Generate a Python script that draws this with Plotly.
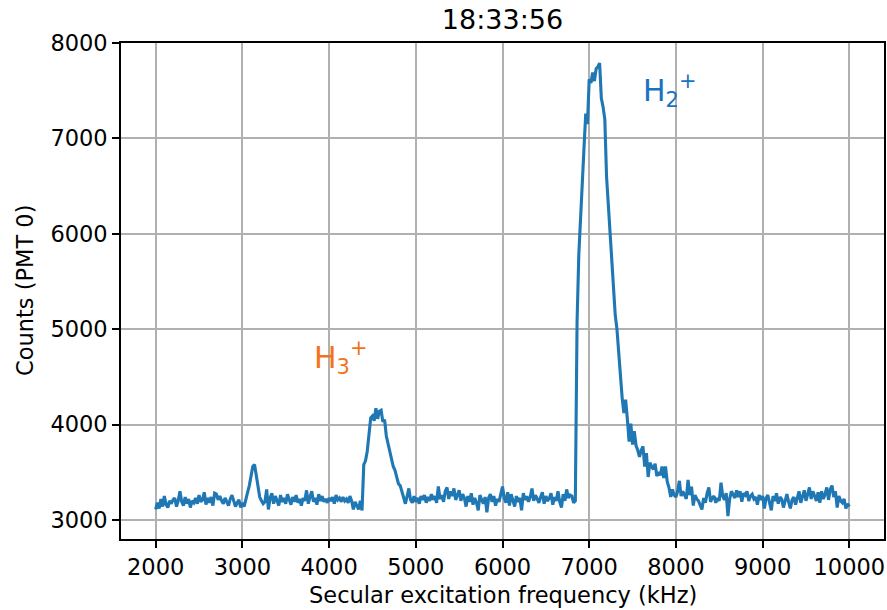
import numpy as np
import plotly.graph_objects as go

# scan grid: 2000 .. 10000 kHz in 20 kHz steps
freq_khz = np.arange(2000, 10001, 20)

counts_pmt0 = [
    # 2000 - 2980
    3110, 3180, 3120, 3220, 3140, 3250, 3160, 3130, 3200, 3170,
    3210, 3230, 3140, 3200, 3300, 3190, 3150, 3240, 3170, 3220,
    3130, 3200, 3180, 3230, 3170, 3260, 3190, 3210, 3290, 3160,
    3230, 3180, 3240, 3150, 3280, 3270, 3210, 3250, 3200, 3170,
    3230, 3190, 3150, 3220, 3260, 3200, 3140, 3180, 3210, 3130,
    # 3000 - 3980
    3180, 3140, 3230, 3290, 3360, 3480, 3560, 3580, 3470, 3350,
    3240, 3200, 3170, 3190, 3320, 3110, 3230, 3280, 3170, 3250,
    3200, 3150, 3260, 3190, 3230, 3170, 3270, 3210, 3160, 3240,
    3190, 3260, 3180, 3220, 3150, 3230, 3200, 3310, 3170, 3240,
    3300, 3190, 3230, 3160, 3270, 3200, 3250, 3190, 3220, 3180,
    # 4000 - 4980
    3230, 3200, 3240, 3170, 3260, 3210, 3230, 3190, 3240, 3200,
    3220, 3180, 3250, 3200, 3110, 3190, 3150, 3110, 3200, 3100,
    3580, 3620, 3720, 3900, 4070, 4090, 4040, 4170, 4060, 4140,
    4150, 4030, 4050, 3880, 3800, 3740, 3650, 3560, 3520, 3430,
    3380, 3360, 3290, 3240, 3170, 3250, 3330, 3210, 3180, 3250,
    # 5000 - 5980
    3190, 3230, 3170, 3250, 3210, 3260, 3180, 3240, 3200, 3270,
    3210, 3250, 3180, 3350, 3220, 3260, 3190, 3300, 3340, 3220,
    3300, 3250, 3330, 3210, 3260, 3310, 3200, 3270, 3230, 3140,
    3250, 3190, 3280, 3160, 3230, 3180, 3100, 3260, 3210, 3170,
    3240, 3080, 3230, 3270, 3190, 3250, 3150, 3220, 3190, 3260,
    # 6000 - 6980
    3350, 3230, 3180, 3290, 3150, 3270, 3200, 3140, 3250, 3190,
    3230, 3100, 3280, 3210, 3250, 3190, 3240, 3330, 3200, 3260,
    3220, 3180, 3240, 3290, 3170, 3250, 3200, 3230, 3280, 3160,
    3240, 3200, 3300, 3190, 3130, 3270, 3200, 3320, 3230, 3260,
    3250, 3180, 3200, 5080, 5780, 6200, 6500, 6900, 7260, 7150,
    # 7000 - 7980
    7620, 7580, 7690, 7600, 7730, 7750, 7790, 7420, 7330, 7200,
    6600, 6300, 6050, 5750, 5480, 5150, 5000, 4750, 4450, 4280,
    4120, 4260, 4060, 3820, 4010, 3790, 3930, 3780, 3730, 3660,
    3730, 3770, 3560, 3700, 3450, 3600, 3560, 3530, 3590, 3460,
    3500, 3470, 3560, 3440, 3560, 3400, 3340, 3240, 3320, 3260,
    # 8000 - 8980
    3240, 3300, 3410, 3250, 3300, 3260, 3220, 3420, 3260, 3350,
    3150, 3260, 3220, 3200, 3150, 3110, 3230, 3180, 3280, 3340,
    3190, 3230, 3250, 3180, 3230, 3200, 3390, 3250, 3210, 3280,
    3040, 3220, 3300, 3270, 3230, 3310, 3240, 3300, 3190, 3280,
    3260, 3300, 3200, 3250, 3270, 3220, 3240, 3160, 3260, 3210,
    # 9000 - 10000
    3250, 3120, 3230, 3260, 3190, 3100, 3250, 3200, 3280, 3170,
    3240, 3220, 3130, 3200, 3270, 3190, 3120, 3210, 3240, 3160,
    3220, 3300, 3180, 3250, 3310, 3200, 3280, 3340, 3220, 3300,
    3250, 3200, 3290, 3180, 3300, 3220, 3270, 3340, 3210, 3320,
    3360, 3240, 3300, 3130, 3250, 3200, 3180, 3220, 3120, 3170,
    3140,
]

x_ticks = [2000, 3000, 4000, 5000, 6000, 7000, 8000, 9000, 10000]
x_ticktext = ["2000", "3000", "4000", "5000", "6000", "7000", "8000", "9000", "10000"]
y_ticks = [3000, 4000, 5000, 6000, 7000, 8000]
y_ticktext = ["3000", "4000", "5000", "6000", "7000", "8000"]

FONT = "DejaVu Sans"
TXT = 22.5

fig = go.Figure()
fig.add_trace(go.Scatter(x=freq_khz, y=counts_pmt0, mode="lines",
                         line=dict(color="#1f77b4", width=3.1),
                         showlegend=False))

# peak labels
fig.add_annotation(x=7600, y=7500, xref="x", yref="y",
                   text="H<sub>2</sub><sup>+</sup>", showarrow=False,
                   xanchor="left", yanchor="middle",
                   font=dict(family=FONT, size=30, color="#1a72c2"))
fig.add_annotation(x=3800, y=4700, xref="x", yref="y",
                   text="H<sub>3</sub><sup>+</sup>", showarrow=False,
                   xanchor="left", yanchor="middle",
                   font=dict(family=FONT, size=30, color="#f2731a"))

# axis titles placed by hand (matplotlib-like spacing)
fig.add_annotation(x=0.5, y=-(595 - 539) / 496, xref="paper", yref="paper",
                   text="Secular excitation frequency (kHz)", showarrow=False,
                   xanchor="center", yanchor="middle",
                   font=dict(family=FONT, size=TXT, color="black"))
fig.add_annotation(x=(25 - 121) / 763, y=0.5, xref="paper", yref="paper",
                   text="Counts (PMT 0)", showarrow=False, textangle=-90,
                   xanchor="center", yanchor="middle",
                   font=dict(family=FONT, size=TXT, color="black"))

axis_style = dict(showline=True, linecolor="black", linewidth=1.6, mirror=True,
                  showgrid=True, gridcolor="#b0b0b0", gridwidth=1.6,
                  ticks="outside", ticklen=7, tickwidth=1.6, tickcolor="black",
                  tickfont=dict(family=FONT, size=TXT, color="black"),
                  zeroline=False, automargin=False)

fig.update_xaxes(range=[1600, 10400], tickvals=x_ticks, ticktext=x_ticktext,
                 **axis_style)
fig.update_yaxes(range=[2800, 8000], tickvals=y_ticks, ticktext=y_ticktext,
                 **axis_style)

fig.update_layout(
    width=887, height=610,
    margin=dict(l=121, r=3, t=43, b=71),
    plot_bgcolor="white", paper_bgcolor="white",
    title=dict(text="18:33:56", x=0.5, xref="paper", xanchor="center",
               y=1 - 20 / 610, yref="container", yanchor="middle",
               font=dict(family=FONT, size=27, color="black")),
)

fig.write_html("out.html", config={"displayModeBar": False},
               post_script="document.body.style.margin='0px';")
